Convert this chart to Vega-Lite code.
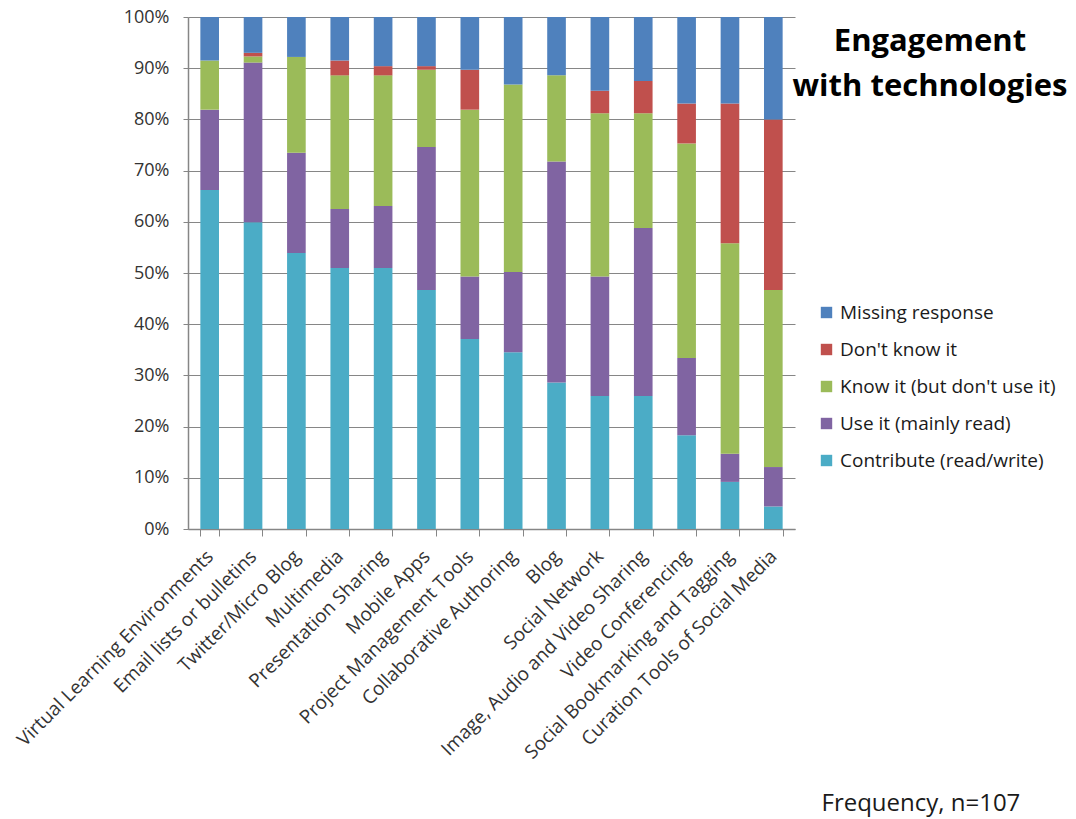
{
  "$schema": "https://vega.github.io/schema/vega-lite/v6.json",
  "width": 607,
  "height": 512,
  "autosize": "none",
  "padding": {"left": 188, "top": 17, "right": 281, "bottom": 290},
  "background": "white",
  "config": {"font": "Open Sans", "view": {"stroke": null}},
  "title": {
    "text": ["Engagement", "with technologies"],
    "anchor": "end",
    "frame": "group",
    "align": "center",
    "baseline": "top",
    "dx": 135,
    "dy": 95,
    "offset": 0,
    "fontSize": 31,
    "fontWeight": "bold",
    "font": "Open Sans",
    "color": "#000000",
    "lineHeight": 45
  },
  "datasets": {
    "engagement": [
      {"cat": "Virtual Learning Environments", "series": "Contribute (read/write)", "k": 1, "v": 0.662},
      {"cat": "Virtual Learning Environments", "series": "Use it (mainly read)", "k": 2, "v": 0.157},
      {"cat": "Virtual Learning Environments", "series": "Know it (but don't use it)", "k": 3, "v": 0.096},
      {"cat": "Virtual Learning Environments", "series": "Missing response", "k": 5, "v": 0.085},
      {"cat": "Email lists or bulletins", "series": "Contribute (read/write)", "k": 1, "v": 0.599},
      {"cat": "Email lists or bulletins", "series": "Use it (mainly read)", "k": 2, "v": 0.312},
      {"cat": "Email lists or bulletins", "series": "Know it (but don't use it)", "k": 3, "v": 0.012},
      {"cat": "Email lists or bulletins", "series": "Don't know it", "k": 4, "v": 0.007},
      {"cat": "Email lists or bulletins", "series": "Missing response", "k": 5, "v": 0.070},
      {"cat": "Twitter/Micro Blog", "series": "Contribute (read/write)", "k": 1, "v": 0.539},
      {"cat": "Twitter/Micro Blog", "series": "Use it (mainly read)", "k": 2, "v": 0.196},
      {"cat": "Twitter/Micro Blog", "series": "Know it (but don't use it)", "k": 3, "v": 0.187},
      {"cat": "Twitter/Micro Blog", "series": "Missing response", "k": 5, "v": 0.078},
      {"cat": "Multimedia", "series": "Contribute (read/write)", "k": 1, "v": 0.510},
      {"cat": "Multimedia", "series": "Use it (mainly read)", "k": 2, "v": 0.115},
      {"cat": "Multimedia", "series": "Know it (but don't use it)", "k": 3, "v": 0.261},
      {"cat": "Multimedia", "series": "Don't know it", "k": 4, "v": 0.029},
      {"cat": "Multimedia", "series": "Missing response", "k": 5, "v": 0.085},
      {"cat": "Presentation Sharing", "series": "Contribute (read/write)", "k": 1, "v": 0.510},
      {"cat": "Presentation Sharing", "series": "Use it (mainly read)", "k": 2, "v": 0.121},
      {"cat": "Presentation Sharing", "series": "Know it (but don't use it)", "k": 3, "v": 0.255},
      {"cat": "Presentation Sharing", "series": "Don't know it", "k": 4, "v": 0.018},
      {"cat": "Presentation Sharing", "series": "Missing response", "k": 5, "v": 0.096},
      {"cat": "Mobile Apps", "series": "Contribute (read/write)", "k": 1, "v": 0.467},
      {"cat": "Mobile Apps", "series": "Use it (mainly read)", "k": 2, "v": 0.279},
      {"cat": "Mobile Apps", "series": "Know it (but don't use it)", "k": 3, "v": 0.151},
      {"cat": "Mobile Apps", "series": "Don't know it", "k": 4, "v": 0.007},
      {"cat": "Mobile Apps", "series": "Missing response", "k": 5, "v": 0.096},
      {"cat": "Project Management Tools", "series": "Contribute (read/write)", "k": 1, "v": 0.371},
      {"cat": "Project Management Tools", "series": "Use it (mainly read)", "k": 2, "v": 0.122},
      {"cat": "Project Management Tools", "series": "Know it (but don't use it)", "k": 3, "v": 0.326},
      {"cat": "Project Management Tools", "series": "Don't know it", "k": 4, "v": 0.078},
      {"cat": "Project Management Tools", "series": "Missing response", "k": 5, "v": 0.103},
      {"cat": "Collaborative Authoring", "series": "Contribute (read/write)", "k": 1, "v": 0.345},
      {"cat": "Collaborative Authoring", "series": "Use it (mainly read)", "k": 2, "v": 0.157},
      {"cat": "Collaborative Authoring", "series": "Know it (but don't use it)", "k": 3, "v": 0.366},
      {"cat": "Collaborative Authoring", "series": "Missing response", "k": 5, "v": 0.132},
      {"cat": "Blog", "series": "Contribute (read/write)", "k": 1, "v": 0.286},
      {"cat": "Blog", "series": "Use it (mainly read)", "k": 2, "v": 0.432},
      {"cat": "Blog", "series": "Know it (but don't use it)", "k": 3, "v": 0.168},
      {"cat": "Blog", "series": "Missing response", "k": 5, "v": 0.114},
      {"cat": "Social Network", "series": "Contribute (read/write)", "k": 1, "v": 0.260},
      {"cat": "Social Network", "series": "Use it (mainly read)", "k": 2, "v": 0.233},
      {"cat": "Social Network", "series": "Know it (but don't use it)", "k": 3, "v": 0.319},
      {"cat": "Social Network", "series": "Don't know it", "k": 4, "v": 0.044},
      {"cat": "Social Network", "series": "Missing response", "k": 5, "v": 0.144},
      {"cat": "Image, Audio and Video Sharing", "series": "Contribute (read/write)", "k": 1, "v": 0.260},
      {"cat": "Image, Audio and Video Sharing", "series": "Use it (mainly read)", "k": 2, "v": 0.328},
      {"cat": "Image, Audio and Video Sharing", "series": "Know it (but don't use it)", "k": 3, "v": 0.224},
      {"cat": "Image, Audio and Video Sharing", "series": "Don't know it", "k": 4, "v": 0.063},
      {"cat": "Image, Audio and Video Sharing", "series": "Missing response", "k": 5, "v": 0.125},
      {"cat": "Video Conferencing", "series": "Contribute (read/write)", "k": 1, "v": 0.183},
      {"cat": "Video Conferencing", "series": "Use it (mainly read)", "k": 2, "v": 0.151},
      {"cat": "Video Conferencing", "series": "Know it (but don't use it)", "k": 3, "v": 0.419},
      {"cat": "Video Conferencing", "series": "Don't know it", "k": 4, "v": 0.078},
      {"cat": "Video Conferencing", "series": "Missing response", "k": 5, "v": 0.169},
      {"cat": "Social Bookmarking and Tagging", "series": "Contribute (read/write)", "k": 1, "v": 0.092},
      {"cat": "Social Bookmarking and Tagging", "series": "Use it (mainly read)", "k": 2, "v": 0.055},
      {"cat": "Social Bookmarking and Tagging", "series": "Know it (but don't use it)", "k": 3, "v": 0.411},
      {"cat": "Social Bookmarking and Tagging", "series": "Don't know it", "k": 4, "v": 0.273},
      {"cat": "Social Bookmarking and Tagging", "series": "Missing response", "k": 5, "v": 0.169},
      {"cat": "Curation Tools of Social Media", "series": "Contribute (read/write)", "k": 1, "v": 0.044},
      {"cat": "Curation Tools of Social Media", "series": "Use it (mainly read)", "k": 2, "v": 0.077},
      {"cat": "Curation Tools of Social Media", "series": "Know it (but don't use it)", "k": 3, "v": 0.346},
      {"cat": "Curation Tools of Social Media", "series": "Don't know it", "k": 4, "v": 0.333},
      {"cat": "Curation Tools of Social Media", "series": "Missing response", "k": 5, "v": 0.200}
    ]
  },
  "data": {"name": "engagement"},
  "mark": {"type": "bar"},
  "encoding": {
    "x": {
      "field": "cat",
      "type": "nominal",
      "sort": null,
      "scale": {"paddingInner": 0.57, "paddingOuter": 0.285},
      "axis": {
        "title": "Frequency, n=107",
        "titleFont": "Open Sans",
        "titleFontSize": 24,
        "titleFontWeight": "normal",
        "titleColor": "#1a1a1a",
        "titleAnchor": "start",
        "titleAlign": "left",
        "titleBaseline": "middle",
        "titleX": 633,
        "titleY": 274,
        "labelAngle": -45,
        "labelAlign": "right",
        "labelBaseline": "middle",
        "labelFontSize": 19,
        "labelColor": "#333333",
        "labelPadding": 17,
        "labelLimit": 400,
        "tickBand": "extent",
        "tickSize": 7,
        "tickColor": "#868686",
        "domainColor": "#868686",
        "domainWidth": 1.5,
        "grid": false
      }
    },
    "y": {
      "field": "v",
      "type": "quantitative",
      "stack": "zero",
      "scale": {"domain": [0, 1], "nice": false},
      "axis": {
        "title": null,
        "format": ".0%",
        "values": [0, 0.1, 0.2, 0.3, 0.4, 0.5, 0.6, 0.7, 0.8, 0.9, 1],
        "labelOverlap": false,
        "labelFontSize": 18,
        "labelColor": "#333333",
        "labelPadding": 14,
        "tickSize": 5,
        "tickColor": "#868686",
        "domainColor": "#868686",
        "domainWidth": 1.5,
        "gridColor": "#868686",
        "gridWidth": 1
      }
    },
    "color": {
      "field": "series",
      "type": "nominal",
      "scale": {
        "domain": ["Missing response", "Don't know it", "Know it (but don't use it)", "Use it (mainly read)", "Contribute (read/write)"],
        "range": ["#4F81BD", "#C0504D", "#9BBB59", "#8064A2", "#4BACC6"]
      },
      "legend": {
        "title": null,
        "orient": "none",
        "legendX": 629,
        "legendY": 286,
        "padding": 0,
        "symbolType": "square",
        "symbolSize": 130,
        "symbolStrokeWidth": 0,
        "labelFontSize": 19,
        "labelColor": "#1a1a1a",
        "labelOffset": 4,
        "rowPadding": 17,
        "labelLimit": 300
      }
    },
    "order": {"field": "k", "type": "quantitative", "sort": "ascending"}
  }
}
